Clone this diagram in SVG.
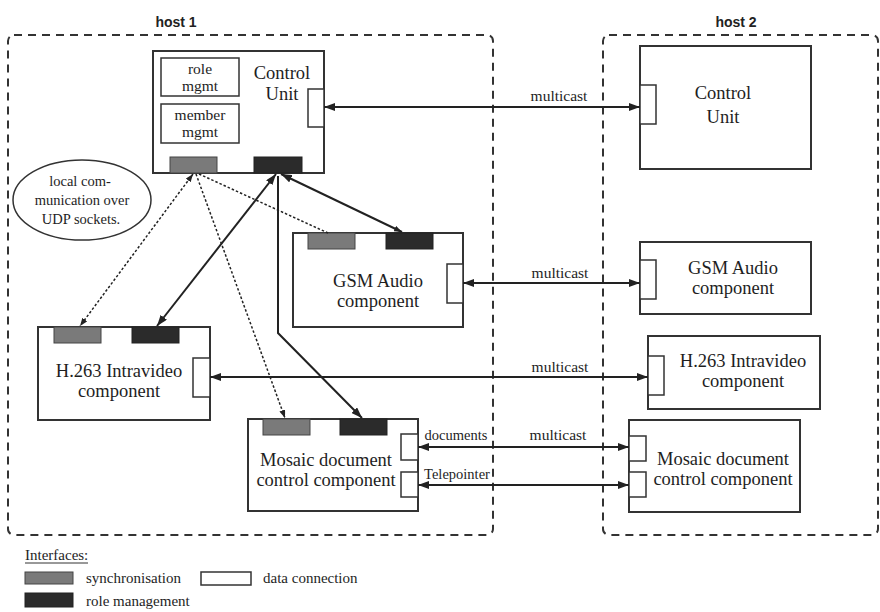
<svg xmlns="http://www.w3.org/2000/svg" width="880" height="612" viewBox="0 0 880 612">
  <defs>
    <marker id="arr" markerUnits="userSpaceOnUse" markerWidth="12" markerHeight="8" refX="11" refY="4" orient="auto-start-reverse">
      <path d="M0,0 L11,4 L0,8 z" fill="#222"/>
    </marker>
    <marker id="arrs" markerUnits="userSpaceOnUse" markerWidth="8" markerHeight="6" refX="8" refY="3" orient="auto-start-reverse">
      <path d="M0,0 L8,3 L0,6 z" fill="#222"/>
    </marker>
    <style>
      .host { fill: none; stroke: #333; stroke-width: 2; stroke-dasharray: 8 6; }
      .hlabel { font-family: "Liberation Sans", Arial, sans-serif; font-weight: bold; font-size: 14px; fill: #222; text-anchor: middle; }
      .box { fill: #fff; stroke: #333; stroke-width: 2; }
      .sub { fill: #fff; stroke: #333; stroke-width: 1.5; }
      .port { fill: #fff; stroke: #333; stroke-width: 1.5; }
      .sync { fill: #7a7a7a; stroke: #444; stroke-width: 1; }
      .role { fill: #2b2b2b; stroke: #222; stroke-width: 1; }
      .t { font-family: "Liberation Serif", "Times New Roman", serif; fill: #1e1e1e; text-anchor: middle; }
      .big { font-size: 18.5px; }
      .mid { font-size: 15.5px; }
      .sm { font-size: 14.5px; }
      .legend { font-family: "Liberation Serif", "Times New Roman", serif; font-size: 15px; fill: #1e1e1e; }
      .link { fill: none; stroke: #222; stroke-width: 2; }
      .dot { fill: none; stroke: #222; stroke-width: 1.5; stroke-dasharray: 2.5 2; }
    </style>
  </defs>

  <!-- host containers -->
  <g id="host1">
    <rect class="host" x="8" y="35" width="485" height="500" rx="6"/>
    <text class="hlabel" x="176" y="27">host 1</text>
  </g>
  <g id="host2">
    <rect class="host" x="603" y="35" width="275" height="500" rx="6"/>
    <text class="hlabel" x="736" y="27">host 2</text>
  </g>

  <!-- host 1 components -->
  <g id="h1-control-unit">
    <rect class="box" x="153" y="51" width="171" height="122"/>
    <rect class="sub" x="161" y="58" width="78" height="38"/>
    <text class="t mid" x="200" y="74">role</text>
    <text class="t mid" x="200" y="91">mgmt</text>
    <rect class="sub" x="161" y="104" width="78" height="39"/>
    <text class="t mid" x="200" y="120">member</text>
    <text class="t mid" x="200" y="137">mgmt</text>
    <text class="t big" x="282" y="79">Control</text>
    <text class="t big" x="282" y="100">Unit</text>
    <rect class="port" x="308" y="89" width="16" height="38"/>
    <rect class="sync" x="170" y="157" width="47" height="16"/>
    <rect class="role" x="254" y="157" width="48" height="16"/>
  </g>

  <g id="h1-gsm-audio">
    <rect class="box" x="293" y="233" width="170" height="94"/>
    <rect class="sync" x="308" y="233" width="47" height="16"/>
    <rect class="role" x="386" y="233" width="47" height="16"/>
    <rect class="port" x="447" y="264" width="16" height="39"/>
    <text class="t big" x="378" y="287">GSM Audio</text>
    <text class="t big" x="378" y="307">component</text>
  </g>

  <g id="h1-h263">
    <rect class="box" x="38" y="327" width="172" height="93"/>
    <rect class="sync" x="54" y="327" width="47" height="16"/>
    <rect class="role" x="132" y="327" width="47" height="16"/>
    <rect class="port" x="193" y="358" width="17" height="39"/>
    <text class="t big" x="119" y="377">H.263 Intravideo</text>
    <text class="t big" x="119" y="397">component</text>
  </g>

  <g id="h1-mosaic">
    <rect class="box" x="248" y="419" width="170" height="92"/>
    <rect class="sync" x="263" y="419" width="47" height="16"/>
    <rect class="role" x="340" y="419" width="47" height="16"/>
    <rect class="port" x="401" y="434" width="17" height="26"/>
    <rect class="port" x="401" y="472" width="17" height="25"/>
    <text class="t big" x="326" y="466">Mosaic document</text>
    <text class="t big" x="326" y="486">control component</text>
  </g>

  <g id="udp-note">
    <ellipse cx="82" cy="200" rx="69" ry="40" fill="#fff" stroke="#333" stroke-width="1.5"/>
    <text class="t sm" x="80" y="186">local com-</text>
    <text class="t sm" x="82" y="205">munication over</text>
    <text class="t sm" x="81" y="224">UDP sockets.</text>
  </g>

  <!-- host 2 components -->
  <g id="h2-control-unit">
    <rect class="box" x="640" y="46" width="171" height="123"/>
    <rect class="port" x="640" y="85" width="16" height="39"/>
    <text class="t big" x="723" y="99">Control</text>
    <text class="t big" x="723" y="123">Unit</text>
  </g>

  <g id="h2-gsm-audio">
    <rect class="box" x="640" y="242" width="171" height="72"/>
    <rect class="port" x="640" y="260" width="16" height="39"/>
    <text class="t big" x="733" y="274">GSM Audio</text>
    <text class="t big" x="733" y="294">component</text>
  </g>

  <g id="h2-h263">
    <rect class="box" x="648" y="336" width="172" height="73"/>
    <rect class="port" x="648" y="356" width="16" height="39"/>
    <text class="t big" x="743" y="367">H.263 Intravideo</text>
    <text class="t big" x="743" y="387">component</text>
  </g>

  <g id="h2-mosaic">
    <rect class="box" x="629" y="420" width="171" height="92"/>
    <rect class="port" x="629" y="436" width="17" height="25"/>
    <rect class="port" x="629" y="472" width="17" height="25"/>
    <text class="t big" x="723" y="465">Mosaic document</text>
    <text class="t big" x="723" y="485">control component</text>
  </g>

  <!-- connectors -->
  <g id="connectors">
    <!-- synchronisation (local UDP) -->
    <line class="dot" x1="193" y1="174" x2="80" y2="326" marker-start="url(#arrs)" marker-end="url(#arrs)"/>
    <line class="dot" x1="196" y1="174" x2="285" y2="418" marker-end="url(#arrs)"/>
    <line class="dot" x1="199" y1="174" x2="328" y2="233"/>
    <!-- role management -->
    <line class="link" x1="276" y1="174" x2="157" y2="326" marker-start="url(#arr)" marker-end="url(#arr)"/>
    <line class="link" x1="281" y1="174" x2="402" y2="232" marker-start="url(#arr)" marker-end="url(#arrs)"/>
    <polyline class="link" points="278,176 278,333 362,418" marker-end="url(#arr)"/>
    <!-- multicast data connections -->
    <line class="link" x1="324" y1="107" x2="640" y2="107" marker-start="url(#arr)" marker-end="url(#arr)"/>
    <text class="t mid" x="559" y="101">multicast</text>
    <line class="link" x1="463" y1="283" x2="640" y2="283" marker-start="url(#arr)" marker-end="url(#arr)"/>
    <text class="t mid" x="560" y="278">multicast</text>
    <line class="link" x1="210" y1="377" x2="648" y2="377" marker-start="url(#arr)" marker-end="url(#arr)"/>
    <text class="t mid" x="560" y="372">multicast</text>
    <line class="link" x1="418" y1="447" x2="629" y2="447" marker-start="url(#arr)" marker-end="url(#arr)"/>
    <text class="t sm" x="456" y="440">documents</text>
    <text class="t mid" x="558" y="440">multicast</text>
    <line class="link" x1="418" y1="485" x2="629" y2="485" marker-start="url(#arr)" marker-end="url(#arr)"/>
    <text class="t sm" x="457" y="479">Telepointer</text>
  </g>

  <!-- legend -->
  <g id="legend">
    <text class="legend" x="25" y="560">Interfaces:</text>
    <line x1="25" y1="563" x2="88" y2="563" stroke="#333" stroke-width="1"/>
    <rect class="sync" x="25" y="572" width="48" height="12"/>
    <text class="legend" x="86" y="583">synchronisation</text>
    <rect class="port" x="201" y="572" width="50" height="13"/>
    <text class="legend" x="263" y="583">data connection</text>
    <rect class="role" x="25" y="593" width="48" height="14"/>
    <text class="legend" x="86" y="606">role management</text>
  </g>
</svg>
